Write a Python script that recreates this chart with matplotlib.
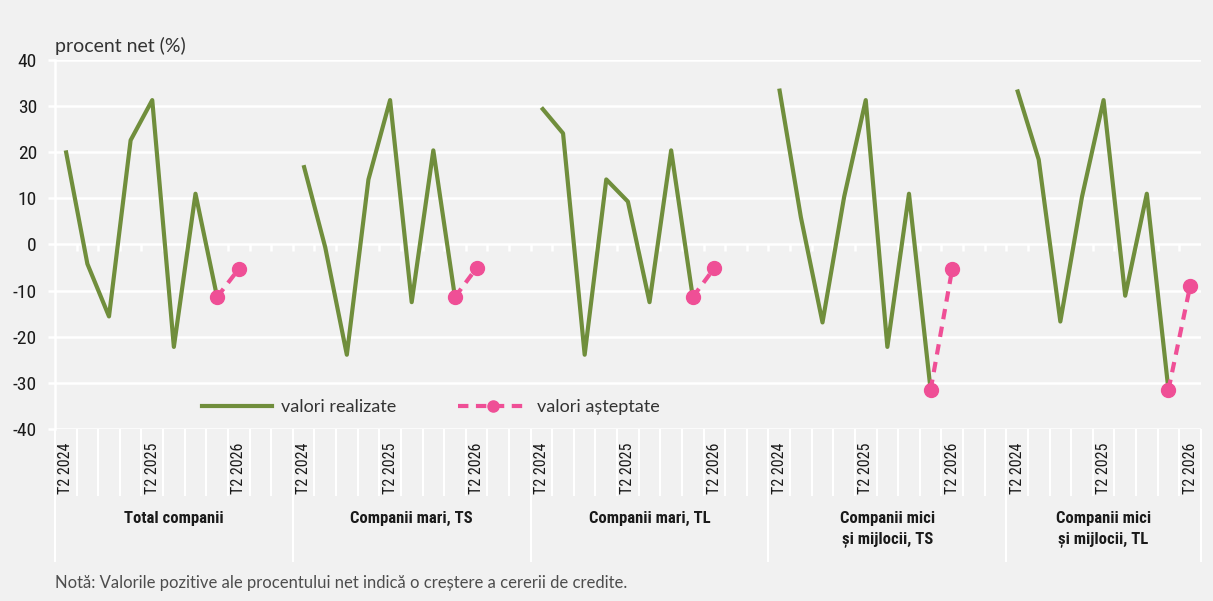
import numpy as np
import matplotlib.pyplot as plt
from matplotlib import font_manager as fm
from matplotlib.lines import Line2D

names = {f.name for f in fm.fontManager.ttflist}
narrow = None
for cand in ['Liberation Sans Narrow', 'DejaVu Sans Condensed', 'Roboto Condensed',
             'Open Sans Condensed', 'Noto Sans Condensed']:
    if cand in names:
        narrow = cand
        break
if narrow is None:
    narrow = 'Liberation Sans'
    scale = 0.85
else:
    scale = 1.0

plt.rcParams['font.family'] = [narrow, 'DejaVu Sans']
plt.rcParams['axes.unicode_minus'] = False

groups = ['Total companii', 'Companii mari, TS', 'Companii mari, TL',
          'Companii mici\nși mijlocii, TS', 'Companii mici\nși mijlocii, TL']
quarters = ['T2 2024', 'T3 2024', 'T4 2024', 'T1 2025', 'T2 2025',
            'T3 2025', 'T4 2025', 'T1 2026', 'T2 2026']
shown = ['T2 2024', 'T2 2025', 'T2 2026']

# realized values T2 2024 .. T1 2026
realized = [
    [20.4, -4.2, -15.6, 22.6, 31.3, -22.2, 11.0, -11.4],
    [17.2, -0.6, -23.9, 14.1, 31.3, -12.5, 20.4, -11.4],
    [29.7, 24.1, -23.9, 14.1, 9.3, -12.5, 20.4, -11.4],
    [33.8, 5.9, -16.9, 10.3, 31.3, -22.2, 11.0, -31.5],
    [33.6, 18.4, -16.7, 10.3, 31.3, -11.1, 11.0, -31.5],
]
# expected values T1 2026, T2 2026
expected = [
    [-11.4, -5.3],
    [-11.4, -5.1],
    [-11.4, -5.1],
    [-31.5, -5.3],
    [-31.5, -9.1],
]

green = '#708e3c'
pink = '#ef4f96'
bg = '#f1f1f1'
white = 'white'
dark = '#1a1a1a'

slots = len(quarters) + 2
nq = len(quarters)
starts = [g * slots for g in range(len(groups))]
n_total = starts[-1] + nq

fig = plt.figure(figsize=(12.13, 6.01), dpi=100, facecolor=bg)
ax = fig.add_axes([0.0453, 0.2862, 0.9447, 0.614])
ax.set_facecolor(bg)

for g, s in enumerate(starts):
    xr = np.arange(s, s + len(realized[g]))
    ax.plot(xr, realized[g], color=green, lw=3, solid_capstyle='butt', zorder=3)
    xe = np.arange(s + nq - 2, s + nq)
    ax.plot(xe, expected[g], color=pink, lw=3, ls=(0, (2.5, 1.8)), marker='o',
            ms=10, mec=pink, zorder=4)

ax.set_xlim(-0.5, n_total - 0.5)
ax.set_ylim(-40, 40)
ax.set_yticks(np.arange(-40, 41, 10))
ax.yaxis.grid(True, color=white, lw=1.8)
ax.set_axisbelow(True)
for side in ['top', 'right', 'bottom']:
    ax.spines[side].set_visible(False)
ax.spines['left'].set_color(white)
ax.spines['left'].set_linewidth(1.8)
ax.tick_params(axis='y', colors=white, length=5, width=1.8, labelsize=14 * scale,
               labelcolor=dark, pad=8)

# category ticks (only T2 labels)
tick_pos, tick_lab = [], []
for s in starts:
    for i, q in enumerate(quarters):
        if q in shown:
            tick_pos.append(s + i)
            tick_lab.append(q)
ax.set_xticks(tick_pos)
ax.set_xticklabels(tick_lab, rotation=90, va='top', fontsize=11.5 * scale, color=dark)
ax.tick_params(axis='x', length=0, pad=10)

# zero axis with small tick marks
sec = ax.secondary_xaxis(0.5)
sec.set_xticks(np.arange(0.5, n_total - 0.5, 1))
sec.tick_params(axis='x', direction='out', length=5, width=1.8, colors=white,
                labelbottom=False, labeltop=False, bottom=True, top=False)
sec.spines['bottom'].set_color(white)
sec.spines['bottom'].set_linewidth(1.8)
sec.spines['top'].set_visible(False)

# category separators below the plot
trans = ax.get_xaxis_transform()
bounds = np.arange(-0.5, n_total, 1)
ax.vlines(bounds, -0.182, 0, transform=trans, color=white, lw=1.5, clip_on=False)
sep = [s - 0.5 for s in starts] + [n_total - 0.5]
ax.vlines(sep, -0.361, 0, transform=trans, color=white, lw=1.5, clip_on=False)

for g, s in enumerate(starts):
    end = s + (slots if g < len(groups) - 1 else nq)
    ax.text((s - 0.5 + end - 0.5) / 2, -0.222, groups[g], transform=trans,
            ha='center', va='top', fontsize=12 * scale, fontweight='bold',
            color=dark, linespacing=1.45)

handles = [Line2D([], [], color=green, lw=3),
           Line2D([], [], color=pink, lw=3, ls=(0, (2.5, 1.8)), marker='o', ms=8)]
ax.legend(handles, ['valori realizate', 'valori așteptate'], ncol=2,
          frameon=False, loc='center', bbox_to_anchor=(0.328, 0.06),
          handlelength=3.9, columnspacing=3.4, handletextpad=0.5,
          prop={'family': 'Lato', 'size': 13}, labelcolor='#333333')

fig.text(0.0453, 0.913, 'procent net (%)', fontsize=14, family='Lato',
         color='#333333', va='baseline')
fig.text(0.0453, 0.022, 'Notă: Valorile pozitive ale procentului net indică o creștere a cererii de credite.',
         fontsize=12, family='Lato', color='#4d4d4d', va='baseline')

fig.savefig('out.png', dpi=100, facecolor=bg)
